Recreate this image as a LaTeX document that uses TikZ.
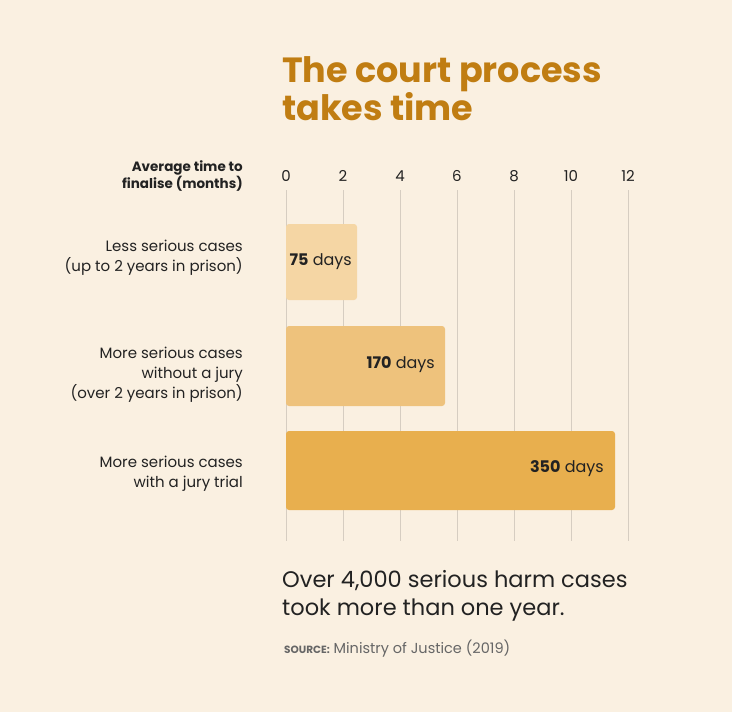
\documentclass[tikz,border=0pt]{standalone}
\usepackage{fontspec}
\setmainfont{Poppins}
\definecolor{bg}{HTML}{FAF0E1}
\definecolor{b1}{HTML}{F5D6A4}
\definecolor{b2}{HTML}{EEC27C}
\definecolor{b3}{HTML}{E8AF4E}
\definecolor{ttl}{HTML}{C07D12}
\definecolor{grid}{HTML}{D6CDC1}
\definecolor{txt}{HTML}{222222}
\tikzset{
 bar/.style={rounded corners=3pt,draw=none},
 lab/.style={anchor=east,align=right,font=\fontsize{15}{20}\selectfont,text=txt,inner sep=0},
 tick/.style={font=\fontsize{15}{18}\selectfont,text=txt,inner sep=0},
 val/.style={anchor=east,font=\fontsize{16}{18}\selectfont,text=txt,inner sep=0},
}
\begin{document}
\begin{tikzpicture}[x=1pt,y=-1pt]
\fill[bg] (0,0) rectangle (732,712);
\useasboundingbox (0,0) rectangle (732,712);
\node[anchor=north west,inner sep=0,align=left,text=ttl,font=\fontsize{35}{36}\bfseries\selectfont] (title) at (282,56) {The court process\\takes time};
\node[anchor=east,align=right,inner sep=0,text=txt,font=\fontsize{13.5}{15}\bfseries\selectfont] (head) at (243,176) {Average time to\\finalise (months)};
\foreach \m in {0,2,...,12}{
 \draw[grid,line width=0.8pt] (286+28.5*\m,190) -- (286+28.5*\m,541);
 \node[tick] (t\m) at (286+28.5*\m,176) {\m};
}
\fill[b1,bar] (286,224) rectangle (357,300);
\fill[b2,bar] (286,326) rectangle (445,406);
\fill[b3,bar] (286,431) rectangle (615,510);
\node[val] (v1) at (352,262) {\textbf{75} days};
\node[val] (v2) at (435,365) {\textbf{170} days};
\node[val] (v3) at (604,469) {\textbf{350} days};
\node[lab] (l1) at (243,258) {Less serious cases\\(up to 2 years in prison)};
\node[lab] (l2) at (243,375) {More serious cases\\without a jury\\(over 2 years in prison)};
\node[lab] (l3) at (243,474) {More serious cases\\with a jury trial};
\node[anchor=north west,inner sep=0,align=left,text=txt,font=\fontsize{22.5}{28}\selectfont] (note) at (282,570) {Over 4,000 serious harm cases\\took more than one year.};
\node[anchor=west,inner sep=0,text=black!60,font=\fontsize{14.5}{16}\selectfont] (src) at (284,649) {{\fontsize{10.5}{12}\bfseries\selectfont SOURCE:} Ministry of Justice (2019)};
\end{tikzpicture}
\end{document}
